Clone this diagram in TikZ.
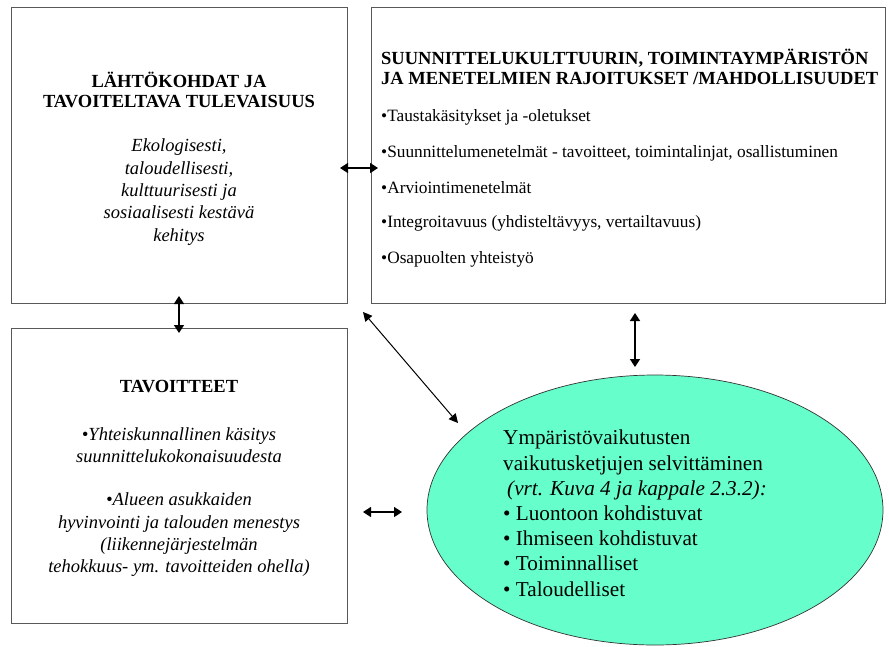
\documentclass[tikz,border=0pt]{standalone}
\usepackage{fontspec}
\setmainfont{Liberation Serif}
\usetikzlibrary{shapes.geometric,arrows.meta}
\definecolor{aqua}{HTML}{66FFCC}
\begin{document}
\begin{tikzpicture}[x=1pt,y=-1pt,
  box/.style={draw=black!65, line width=0.8pt, inner sep=0pt, anchor=north west},
  dbl/.style={{Triangle[width=10pt,length=8pt]}-{Triangle[width=10pt,length=8pt]}, line width=1.6pt},
  thin dbl/.style={{Triangle[width=9pt,length=9pt]}-{Triangle[width=9pt,length=9pt]}, line width=1pt},
  ttl/.style={align=center, font=\bfseries\fontsize{18.5}{20.5}\selectfont},
  itx/.style={align=center, font=\itshape\fontsize{18.5}{22.3}\selectfont},
  btx/.style={anchor=west, font=\fontsize{17.3}{20}\selectfont, inner sep=0pt},
  etx/.style={anchor=north west, align=left, font=\fontsize{21.2}{25.2}\selectfont, inner sep=0pt}
]
\useasboundingbox (0,0) rectangle (889,646);
% boxes
\node[box, minimum width=336pt, minimum height=296pt] (b1) at (11,7) {};
\node[box, minimum width=514pt, minimum height=296pt] (b2) at (371,7) {};
\node[box, minimum width=336pt, minimum height=295pt] (b3) at (11,328) {};
\node[ellipse, draw=black!80, line width=0.7pt, fill=aqua, minimum width=456pt, minimum height=270pt, inner sep=0pt] (e) at (655,510) {};
% box 1 text
\node[ttl] (t1) at (179,90) {LÄHTÖKOHDAT JA\\TAVOITELTAVA TULEVAISUUS};
\node[itx] (i1) at (179,192) {Ekologisesti,\\taloudellisesti,\\kulttuurisesti ja\\sosiaalisesti kestävä\\kehitys};
% box 2 text
\node[ttl, anchor=west, align=left, inner sep=0pt] (t2) at (381,67) {SUUNNITTELUKULTTUURIN, TOIMINTAYMPÄRISTÖN\\JA MENETELMIEN RAJOITUKSET /MAHDOLLISUUDET};
\node[btx] (p1) at (381,117) {•Taustakäsitykset ja -oletukset};
\node[btx] (p2) at (381,153) {•Suunnittelumenetelmät - tavoitteet, toimintalinjat, osallistuminen};
\node[btx] (p3) at (381,188) {•Arviointimenetelmät};
\node[btx] (p4) at (381,223) {•Integroitavuus (yhdisteltävyys, vertailtavuus)};
\node[btx] (p5) at (381,259) {•Osapuolten yhteistyö};
% box 3 text
\node[ttl] (t3) at (179,387) {TAVOITTEET};
\node[itx] (i3a) at (179,445) {•Yhteiskunnallinen käsitys\\suunnittelukokonaisuudesta};
\node[itx] (i3b) at (179,535) {•Alueen asukkaiden\\hyvinvointi ja talouden menestys\\(liikennejärjestelmän\\tehokkuus- ym. tavoitteiden ohella)};
% ellipse text
\node[etx] (et) at (503,430) {Ympäristövaikutusten\\vaikutusketjujen selvittäminen\\\hspace*{4pt}\textit{(vrt. Kuva 4 ja kappale 2.3.2):}\\• Luontoon kohdistuvat\\• Ihmiseen kohdistuvat\\• Toiminnalliset\\• Taloudelliset};
% connectors
\coordinate (a1) at (340,168);
\coordinate (a2) at (378,168);
\draw[dbl] (a1) -- (a2);
\coordinate (v1) at (179,296);
\coordinate (v2) at (179,333);
\draw[dbl] (v1) -- (v2);
\coordinate (d1) at (363,312);
\coordinate (d2) at (458,423);
\draw[thin dbl] (d1) -- (d2);
\coordinate (r1) at (635,313);
\coordinate (r2) at (635,367);
\draw[dbl] (r1) -- (r2);
\coordinate (h1) at (363,512);
\coordinate (h2) at (402,512);
\draw[dbl] (h1) -- (h2);
\end{tikzpicture}
\end{document}
